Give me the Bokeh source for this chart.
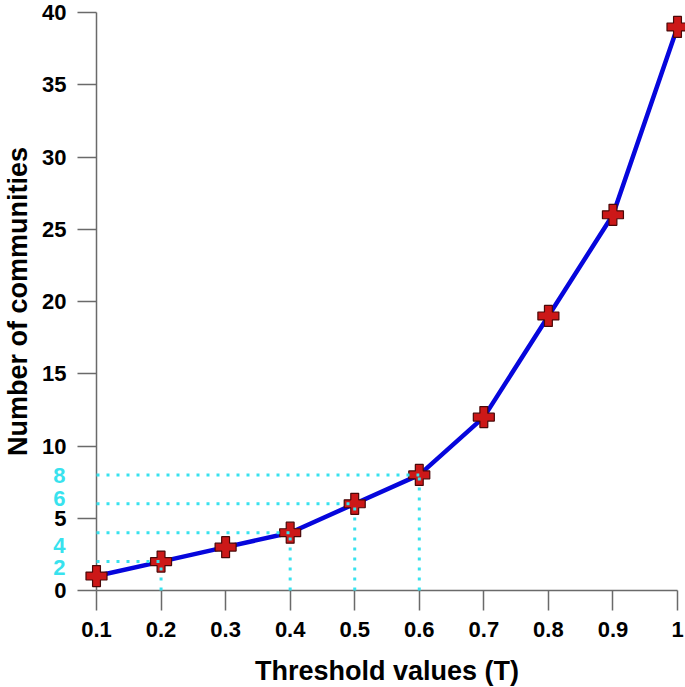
from bokeh.plotting import figure
from bokeh.models import Range1d, FixedTicker, LinearAxis
from bokeh.embed import file_html
from bokeh.resources import INLINE

# Data
thresholds = [0.1, 0.2, 0.3, 0.4, 0.5, 0.6, 0.7, 0.8, 0.9, 1.0]
communities = [1, 2, 3, 4, 6, 8, 12, 19, 26, 39]
x_ticks = [0.1, 0.2, 0.3, 0.4, 0.5, 0.6, 0.7, 0.8, 0.9, 1.0]
x_tick_labels = ["0.1", "0.2", "0.3", "0.4", "0.5", "0.6", "0.7", "0.8", "0.9", "1"]
y_ticks = [0, 5, 10, 15, 20, 25, 30, 35, 40]
guide_x = [0.2, 0.4, 0.5, 0.6]
guide_y = [2, 4, 6, 8]
guide_labels = ["2", "4", "6", "8"]
# where the cyan guide labels sit (nudged off the "5" tick label, as in the original)
guide_label_pos = [1.6, 3.1, 6.35, 7.95]

FONT = "Liberation Sans"
AXIS_GRAY = "#6a6a6a"
CYAN = "#38e2ee"

p = figure(
    frame_width=581, frame_height=578,
    min_border_left=96, min_border_right=8, min_border_top=12, min_border_bottom=97,
    x_range=Range1d(0.1, 1.0), y_range=Range1d(0, 40),
    output_backend="svg", toolbar_location=None,
)
p.outline_line_color = None
p.grid.visible = False
p.background_fill_color = "white"
p.border_fill_color = "white"

xax = p.xaxis[0]
yax = p.yaxis[0]
for ax in (xax, yax):
    ax.axis_line_color = AXIS_GRAY
    ax.axis_line_width = 1.5
    ax.major_tick_line_color = AXIS_GRAY
    ax.major_tick_line_width = 1.5
    ax.major_tick_in = 0
    ax.minor_tick_in = 0
    ax.minor_tick_out = 0
    ax.major_label_text_font = FONT
    ax.major_label_text_font_style = "bold"
    ax.major_label_text_font_size = "22px"
    ax.major_label_text_color = "black"
    ax.axis_label_text_font = FONT
    ax.axis_label_text_font_style = "bold"
    ax.axis_label_text_font_size = "27px"
    ax.axis_label_text_color = "black"

xax.ticker = FixedTicker(ticks=x_ticks, minor_ticks=[])
xax.major_label_overrides = {t: l for t, l in zip(x_ticks, x_tick_labels)}
xax.major_tick_out = 20
xax.major_label_standoff = 11
xax.axis_label = "Threshold values (T)"
xax.axis_label_standoff = 16

yax.ticker = FixedTicker(ticks=y_ticks, minor_ticks=[])
yax.major_tick_out = 19
yax.major_label_standoff = 11
yax.axis_label = None

# second left axis carrying the cyan guide values and the axis title
cax = LinearAxis(
    ticker=FixedTicker(ticks=guide_label_pos, minor_ticks=[]),
    major_label_overrides={v: l for v, l in zip(guide_label_pos, guide_labels)},
    axis_line_color=None, major_tick_line_color=None, minor_tick_line_color=None,
    major_tick_out=0, major_tick_in=0, minor_tick_out=0, minor_tick_in=0,
    major_label_standoff=-26,
    major_label_text_font=FONT, major_label_text_font_style="bold",
    major_label_text_font_size="22px", major_label_text_color=CYAN,
    axis_label="Number of communities", axis_label_standoff=17,
    axis_label_text_font=FONT, axis_label_text_font_style="bold",
    axis_label_text_font_size="27px", axis_label_text_color="black",
)
p.add_layout(cax, "left")

# main line and markers
p.line(thresholds, communities, line_color="#0606dc", line_width=4.5)
p.scatter(thresholds, communities, marker="plus", size=21,
          fill_color="#cc1818", line_color="#4a0808", line_width=1.2,
          level="overlay")

# cyan dotted guides
zeros = [0 for _ in guide_x]
starts = [thresholds[0] for _ in guide_y]
p.segment(x0=starts, y0=guide_y, x1=guide_x, y1=guide_y,
          line_color=CYAN, line_width=3, line_dash="3 7", level="overlay")
p.segment(x0=guide_x, y0=zeros, x1=guide_x, y1=guide_y,
          line_color=CYAN, line_width=3, line_dash="3 7", level="overlay")

open("out.html", "w").write(file_html(p, INLINE))
